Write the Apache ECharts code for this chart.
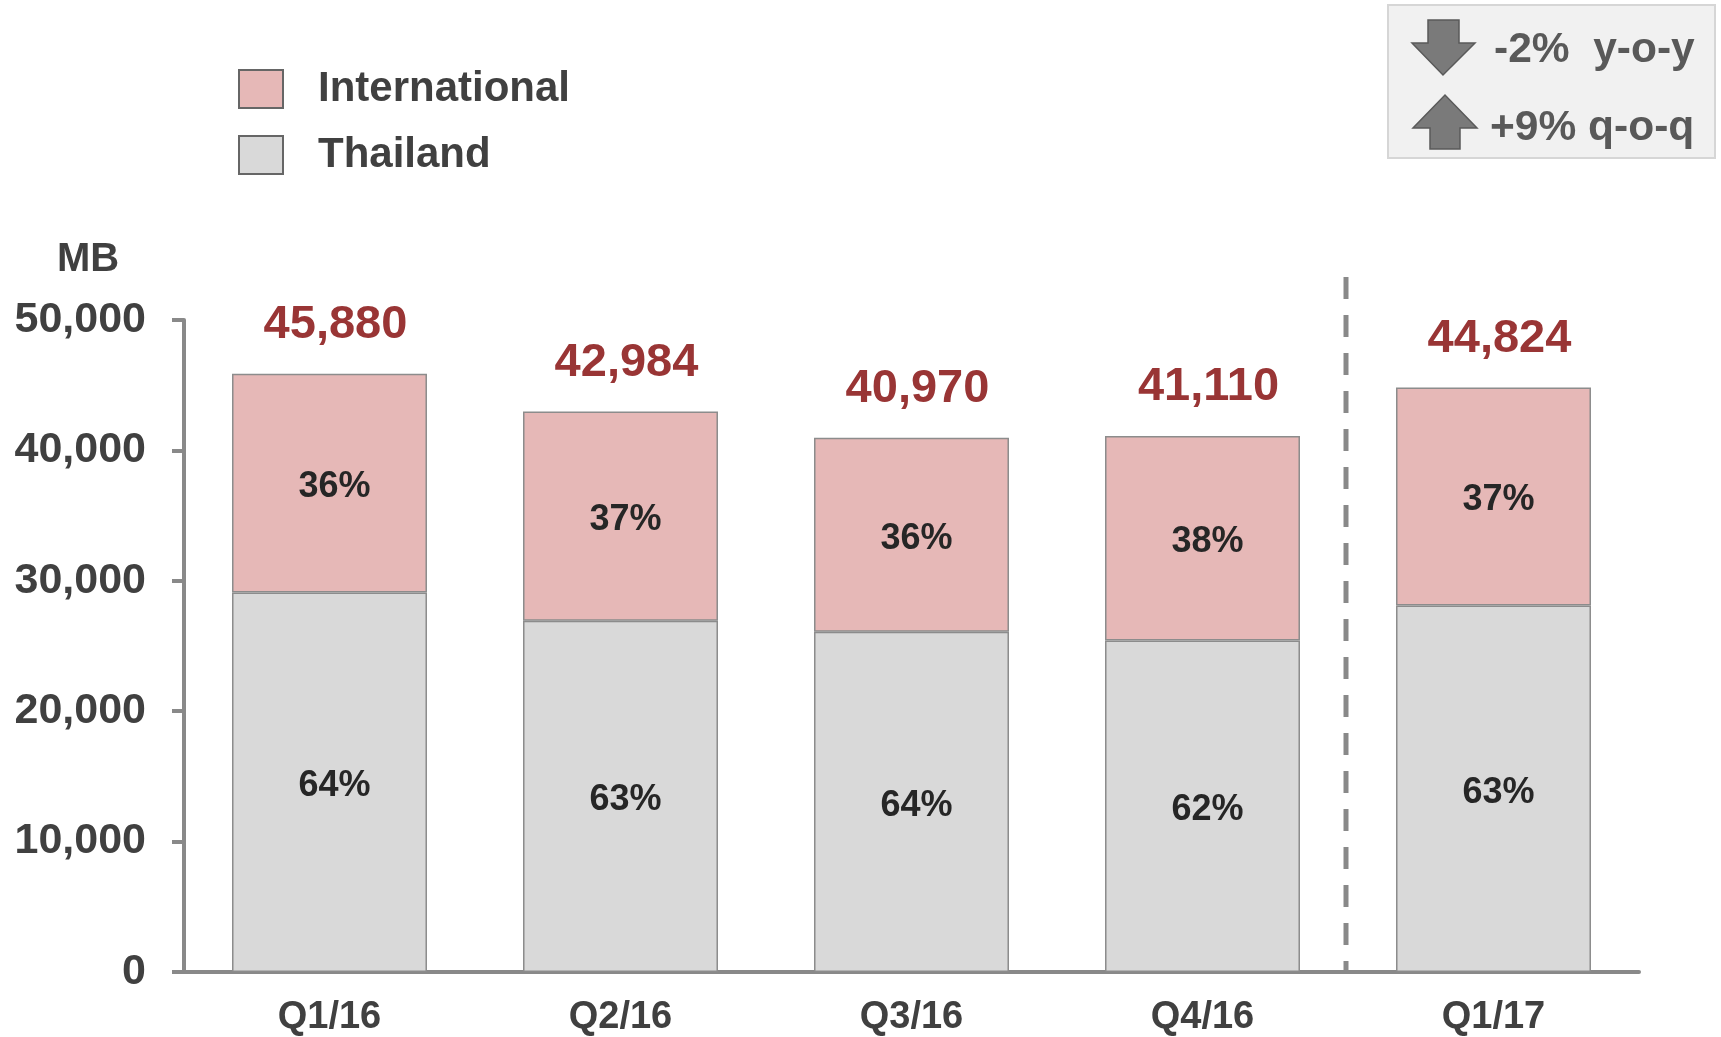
<!DOCTYPE html>
<html>
<head>
<meta charset="utf-8">
<script src="https://cdn.jsdelivr.net/npm/echarts@6/dist/echarts.min.js"></script>
<style>
  html, body { margin: 0; padding: 0; background: #fff; }
  #main { width: 1721px; height: 1037px; }
</style>
</head>
<body>
<div id="main"></div>
<script>
  // data
  var quarters = ["Q1/16", "Q2/16", "Q3/16", "Q4/16", "Q1/17"];
  var thailand = [29110, 26930, 26090, 25420, 28100];
  var international = [16770, 16054, 14880, 15690, 16724];
  var totals = ["45,880", "42,984", "40,970", "41,110", "44,824"];
  var thaiShare = ["64%", "63%", "64%", "62%", "63%"];
  var intlShare = ["36%", "37%", "36%", "38%", "37%"];
  var yTicks = ["0", "10,000", "20,000", "30,000", "40,000", "50,000"];

  var font = "Liberation Sans, Arial, sans-serif";
  var axisGrey = "#898989";
  var chartDom = document.getElementById("main");
  var myChart = echarts.init(chartDom);

  var option = {
    animation: false,
    textStyle: { fontFamily: font },
    grid: { left: 184, right: 82, top: 320, bottom: 62 },
    legend: {
      orient: "vertical",
      left: 233,
      top: 63,
      itemWidth: 44,
      itemHeight: 38,
      itemGap: 24,
      icon: "rect",
      data: ["International", "Thailand"],
      itemStyle: { borderColor: "#666", borderWidth: 2 },
      textStyle: {
        fontSize: 42,
        fontWeight: "bold",
        color: "#404040",
        padding: [0, 0, 0, 30],
      },
    },
    xAxis: {
      type: "category",
      data: quarters,
      axisLine: { lineStyle: { color: axisGrey, width: 4 } },
      axisTick: { length: 12, lineStyle: { color: axisGrey, width: 4 } },
      axisLabel: {
        fontSize: 38,
        fontWeight: "bold",
        color: "#404040",
        margin: 27,
      },
    },
    yAxis: {
      type: "value",
      min: 0,
      max: 50000,
      interval: 10000,
      splitLine: { show: false },
      axisLine: { show: true, lineStyle: { color: axisGrey, width: 4 } },
      axisTick: { show: true, length: 12, lineStyle: { color: axisGrey, width: 4 } },
      axisLabel: {
        fontSize: 43,
        fontWeight: "bold",
        color: "#404040",
        margin: 38,
        formatter: function (v) {
          return yTicks[Math.round(v / 10000)];
        },
      },
    },
    series: [
      {
        name: "Thailand",
        type: "bar",
        stack: "total",
        barCategoryGap: "33%",
        data: thailand,
        itemStyle: { color: "#d9d9d9", borderColor: "#8c8c8c", borderWidth: 1.5 },
        label: {
          show: true,
          position: "inside",
          offset: [5, 4],
          fontSize: 36,
          fontWeight: "bold",
          color: "#262626",
          formatter: function (p) {
            return thaiShare[p.dataIndex];
          },
        },
      },
      {
        name: "International",
        type: "bar",
        stack: "total",
        data: international,
        itemStyle: { color: "#e6b8b7", borderColor: "#8c8c8c", borderWidth: 1.5 },
        label: {
          show: true,
          position: "inside",
          offset: [5, 4],
          fontSize: 36,
          fontWeight: "bold",
          color: "#262626",
          formatter: function (p) {
            return intlShare[p.dataIndex];
          },
        },
      },
      {
        // totals above the bars, sitting on top of the stack
        name: "total",
        type: "bar",
        stack: "total",
        data: [0, 0, 0, 0, 0],
        itemStyle: { color: "transparent" },
        label: {
          show: true,
          position: "top",
          distance: 25,
          offset: [6, 0],
          fontSize: 47,
          fontWeight: "bold",
          color: "#993535",
          formatter: function (p) {
            return totals[p.dataIndex];
          },
        },
      },
    ],
    graphic: [
      {
        type: "text",
        style: {
          x: 88, y: 260, text: "MB",
          fontSize: 40, fontWeight: "bold", fontFamily: font,
          fill: "#404040", textAlign: "center", textVerticalAlign: "middle",
        },
      },
      {
        type: "rect",
        shape: { x: 1388, y: 5, width: 327, height: 153 },
        style: { fill: "#f1f1f1", stroke: "#d6d6d6", lineWidth: 2 },
      },
      {
        type: "polygon",
        shape: {
          points: [[1428, 20], [1459, 20], [1459, 43], [1475, 43], [1443, 75], [1412, 43], [1428, 43]],
        },
        style: { fill: "#7a7a7a", stroke: "#5a5a5a", lineWidth: 1.5 },
      },
      {
        type: "polygon",
        shape: {
          points: [[1430, 149], [1460, 149], [1460, 128], [1477, 128], [1445, 95], [1413, 128], [1430, 128]],
        },
        style: { fill: "#7a7a7a", stroke: "#5a5a5a", lineWidth: 1.5 },
      },
      {
        type: "text",
        style: {
          x: 1494, y: 50, text: "-2%  y-o-y",
          fontSize: 42.5, fontWeight: "bold", fontFamily: font,
          fill: "#595959", textVerticalAlign: "middle",
        },
      },
      {
        type: "text",
        style: {
          x: 1490, y: 128, text: "+9% q-o-q",
          fontSize: 42.5, fontWeight: "bold", fontFamily: font,
          fill: "#595959", textVerticalAlign: "middle",
        },
      },
    ],
  };
  myChart.setOption(option);

  // dashed divider between Q4/16 and Q1/17
  var x3 = myChart.convertToPixel({ xAxisIndex: 0 }, quarters[3]);
  var x4 = myChart.convertToPixel({ xAxisIndex: 0 }, quarters[4]);
  var yTop = myChart.convertToPixel({ yAxisIndex: 0 }, 53300);
  var yBottom = myChart.convertToPixel({ yAxisIndex: 0 }, 0);
  myChart.setOption({
    graphic: option.graphic.concat([
      {
        type: "line",
        shape: { x1: (x3 + x4) / 2 - 2, y1: yTop, x2: (x3 + x4) / 2 - 2, y2: yBottom },
        style: { stroke: "#898989", lineWidth: 5, lineDash: [22, 16] },
        z: 10,
      },
    ]),
  });
</script>
</body>
</html>
